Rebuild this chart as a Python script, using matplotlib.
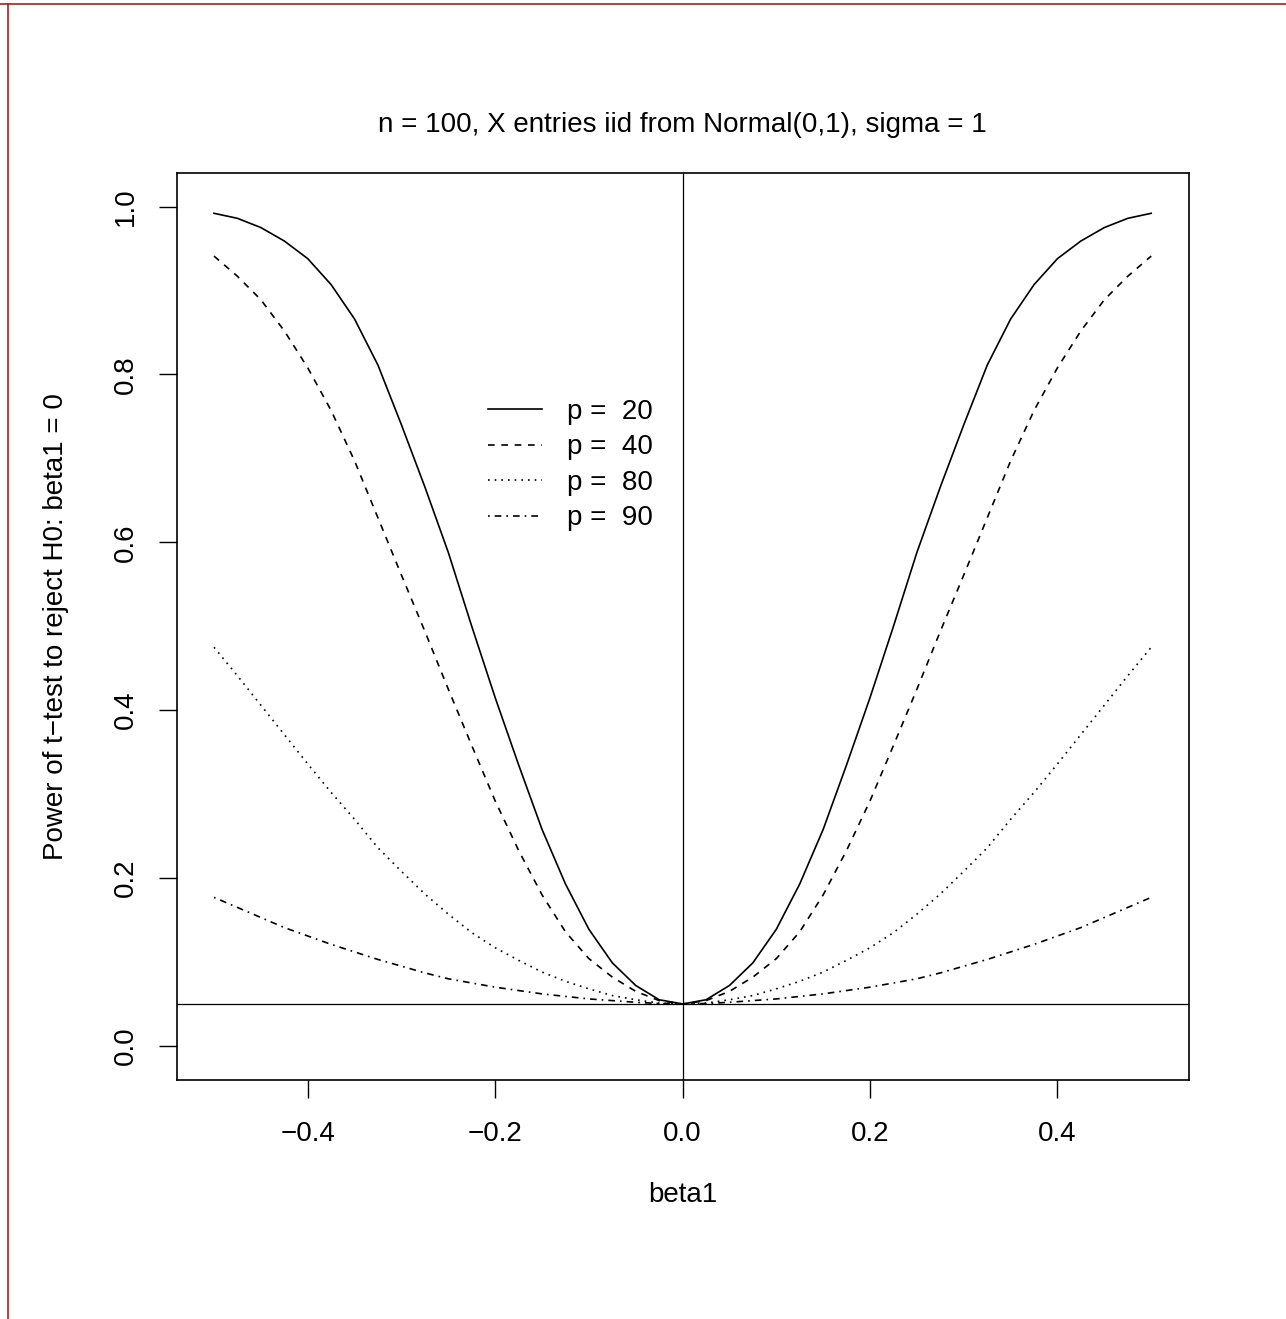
import numpy as np
import matplotlib.pyplot as plt
from matplotlib.lines import Line2D

plt.rcParams['font.family'] = ['Liberation Sans', 'DejaVu Sans']

# beta1 grid (right half; the curves are symmetric about 0)
beta_half = [0.0, 0.025, 0.05, 0.075, 0.1, 0.125, 0.15, 0.175, 0.2, 0.225, 0.25,
             0.275, 0.3, 0.325, 0.35, 0.375, 0.4, 0.425, 0.45, 0.475, 0.5]

# power
power_p20 = [0.050, 0.055, 0.072, 0.099, 0.139, 0.193, 0.258, 0.335, 0.415, 0.500, 0.588,
             0.666, 0.740, 0.811, 0.866, 0.907, 0.938, 0.959, 0.975, 0.986, 0.992]
power_p40 = [0.050, 0.054, 0.065, 0.082, 0.104, 0.136, 0.180, 0.233, 0.292, 0.358, 0.425,
             0.494, 0.561, 0.629, 0.697, 0.757, 0.808, 0.852, 0.889, 0.917, 0.941]
power_p80 = [0.050, 0.051, 0.055, 0.060, 0.068, 0.077, 0.088, 0.102, 0.117, 0.135, 0.157,
             0.181, 0.208, 0.236, 0.270, 0.302, 0.336, 0.371, 0.406, 0.441, 0.475]
power_p90 = [0.050, 0.0505, 0.052, 0.054, 0.056, 0.059, 0.062, 0.066, 0.070, 0.075, 0.080,
             0.087, 0.095, 0.103, 0.112, 0.121, 0.131, 0.141, 0.153, 0.165, 0.177]

p_values = [20, 40, 80, 90]
x_ticks = [-0.4, -0.2, 0.0, 0.2, 0.4]
y_ticks = [0.0, 0.2, 0.4, 0.6, 0.8, 1.0]


def mirror(half):
    half = np.asarray(half)
    return np.concatenate([half[:0:-1], half])


beta = np.concatenate([-np.asarray(beta_half)[:0:-1], beta_half])
curves = [power_p20, power_p40, power_p80, power_p90]
styles = ['-', (0, (4, 4)), (0, (1, 3)), (0, (1, 3, 4, 3))]

FS = 20
W, H = 1286, 1319
fig = plt.figure(figsize=(W / 100, H / 100), dpi=100)
ax = fig.add_axes([176.5 / W, 1 - 1079.5 / H, 1012.2 / W, 906.5 / H])

handles = []
for p, vals, ls in zip(p_values, curves, styles):
    line, = ax.plot(beta, mirror(vals), color='black', lw=1.2, linestyle=ls,
                    label=f'p =  {p}')
    handles.append(line)

ax.axvline(0, color='black', lw=0.9)
ax.axhline(0.05, color='black', lw=0.9)

ax.set_xlim(-0.54, 0.54)
ax.set_ylim(-0.04, 1.04)
ax.set_xticks(x_ticks)
ax.set_xticklabels([f'{t:.1f}'.replace('-', '\u2212') for t in x_ticks])
ax.set_yticks(y_ticks)
ax.set_yticklabels([f'{t:.1f}' for t in y_ticks], rotation=90, va='center')
ax.tick_params(axis='both', length=13, width=1.0, labelsize=FS, colors='black')
ax.tick_params(axis='x', pad=17)
ax.tick_params(axis='y', pad=14)
for s in ax.spines.values():
    s.set_linewidth(1.2)

ax.legend(handles=handles, loc='upper left', frameon=False, fontsize=FS,
          handlelength=1.95, handletextpad=0.9, labelspacing=0.34,
          borderpad=0, borderaxespad=0,
          bbox_to_anchor=((488 - 176.5) / 1012.2, (1079.5 - 399) / 906.5))

fig.text(682.6 / W, 1 - 125 / H, 'n = 100, X entries iid from Normal(0,1), sigma = 1',
         ha='center', va='center', fontsize=FS)
fig.text(682.6 / W, 1 - 1195 / H, 'beta1', ha='center', va='center', fontsize=FS)
fig.text(56 / W, 1 - 627 / H, 'Power of t\u2212test to reject H0: beta1 = 0',
         ha='center', va='center', rotation=90, fontsize=FS)

# thin red frame on the top and left edges
red = '#a82020'
fig.add_artist(Line2D([0, 1], [1 - 4 / H, 1 - 4 / H], transform=fig.transFigure,
                      color=red, lw=1.2))
fig.add_artist(Line2D([7.5 / W, 7.5 / W], [0, 1 - 4 / H], transform=fig.transFigure,
                      color=red, lw=1.2))

fig.savefig('out.png', dpi=100)
